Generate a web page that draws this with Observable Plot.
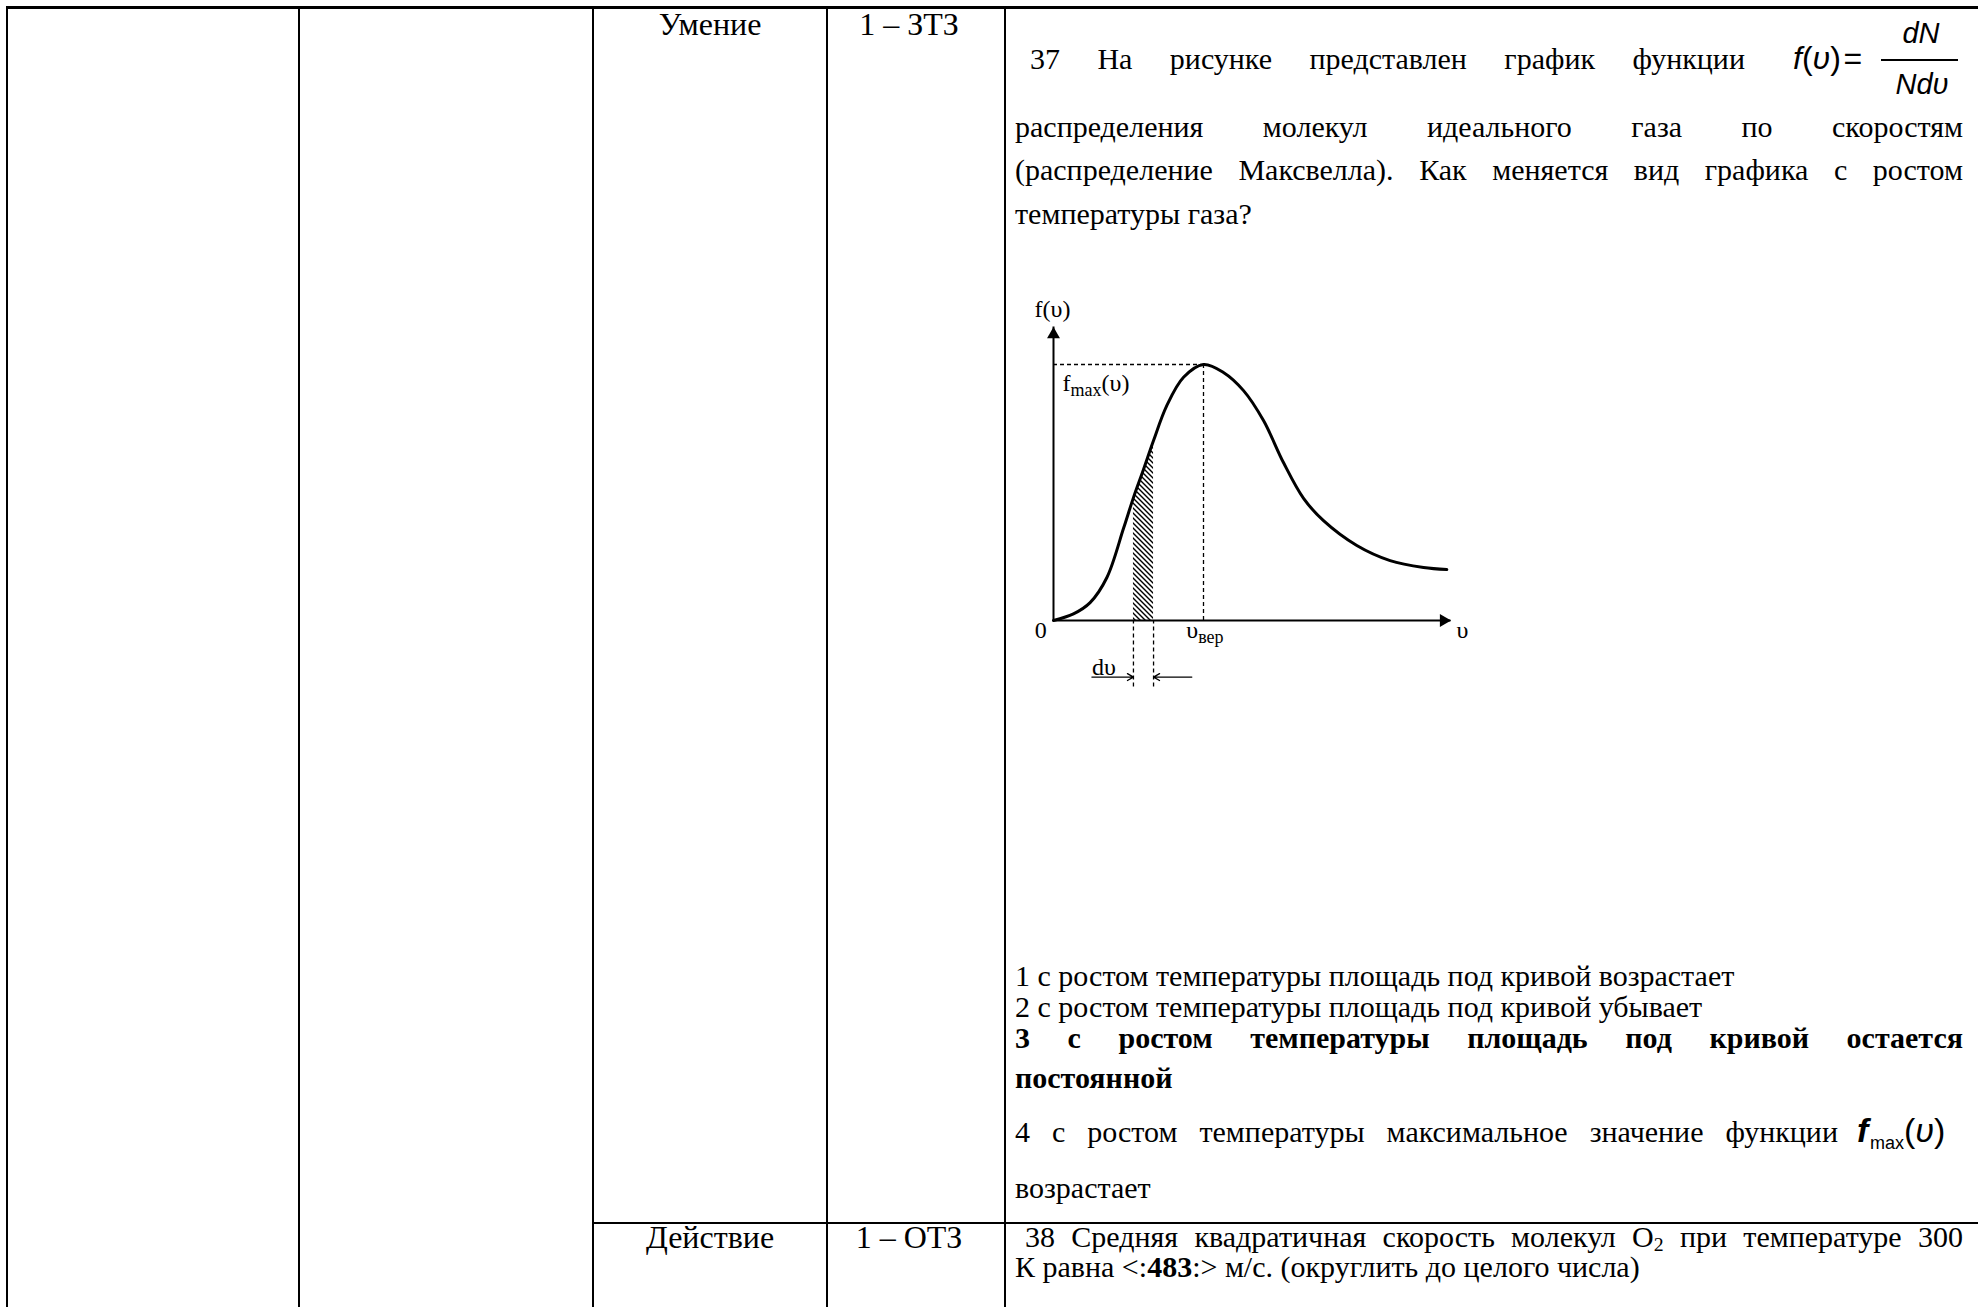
<!DOCTYPE html>
<html>
<head>
<meta charset="utf-8">
<script src="https://cdn.jsdelivr.net/npm/d3@7"></script>
<script src="https://cdn.jsdelivr.net/npm/@observablehq/plot@0.6"></script>
<style>
html,body{margin:0;padding:0;background:#fff;}
#page{position:relative;width:1978px;height:1307px;overflow:hidden;background:#fff;color:#000;}
#page div{color:#000;}
</style>
</head>
<body>
<div id="page"></div>
<script>
// ---------------- DATA ----------------
const row1Cells = ["Умение", "1 – ЗТЗ"];
const row2Cells = ["Действие", "1 – ОТЗ"];
const q37Words = ["37", "На", "рисунке", "представлен", "график", "функции"];
const q37Lines = [
  "распределения молекул идеального газа по скоростям",
  "(распределение Максвелла). Как меняется вид графика с ростом",
  "температуры газа?"
];
const optionLines = [
  "1 с ростом температуры площадь под кривой возрастает",
  "2 с ростом температуры площадь под кривой убывает",
  "3 с ростом температуры площадь под кривой остается",
  "постоянной",
  "4 с ростом температуры максимальное значение функции",
  "возрастает"
];
const q38Line1 = ["38", "Средняя", "квадратичная", "скорость", "молекул", "O<span style=\"font-size:0.66em;vertical-align:-0.22em\">2</span>", "при", "температуре", "300"];
const q38Line2 = "К равна &lt;:<b>483</b>:&gt; м/с. (округлить до целого числа)";

// Maxwell curve (speed in units of υвер, f in units of fmax)
const speed   = [0, 0.133, 0.244, 0.356, 0.467, 0.533, 0.600, 0.667, 0.756, 0.867, 1.000, 1.133, 1.267, 1.400, 1.533, 1.667, 1.800, 2.022, 2.244, 2.467, 2.622];
const density = [0, 0.026, 0.070, 0.168, 0.360, 0.480, 0.590, 0.703, 0.840, 0.950, 1.000, 0.969, 0.898, 0.781, 0.617, 0.477, 0.390, 0.293, 0.234, 0.207, 0.199];
const dvBand = [0.533, 0.667];
const peak = {v: 1.0, f: 1.0};
const axisEnd = {v: 2.65, f: 1.146};
const guideBottom = -0.26;
const dvArrows = [{from: 0.256, to: 0.533, f: -0.221}, {from: 0.922, to: 0.667, f: -0.221}];
const chartLabels = [
  {text: "f(υ)",    v: -0.007, f: 1.184,  anchor: "middle"},
  {text: "0",       v: -0.085, f: -0.070, anchor: "middle"},
  {text: "fmax(υ)", v: 0.060,  f: 0.895,  anchor: "start"},
  {text: "υвер",    v: 0.885,  f: -0.070, anchor: "start"},
  {text: "υ",       v: 2.687,  f: -0.070, anchor: "start"},
  {text: "dυ",      v: 0.256,  f: -0.213, anchor: "start"}
];
const subLabels = [{base: "f", sub: "max", tail: "(υ)"}, {base: "υ", sub: "вер", tail: ""}];

// ---------------- PAGE ----------------
const page = document.getElementById("page");
const SERIF = '"Liberation Serif","Times New Roman",serif';
const SANS = '"Liberation Sans",Arial,sans-serif';
const FS = 30;
const K_SERIF = 0.8375, K_SANS = 0.8465;

function el(css, html) {
  const e = document.createElement("div");
  Object.assign(e.style, {position: "absolute"}, css);
  if (html != null) e.innerHTML = html;
  page.appendChild(e);
  return e;
}
function textAt(html, o) {
  const size = o.size || FS, k = o.k || K_SERIF;
  const css = {top: (o.b - k * size) + "px", fontSize: size + "px", lineHeight: "1",
    fontFamily: o.family || SERIF, whiteSpace: "nowrap",
    fontWeight: o.bold ? "bold" : "normal", fontStyle: o.italic ? "italic" : "normal"};
  css.left = o.x + "px";
  if (o.align === "center") css.transform = "translateX(-50%)";
  return el(css, html);
}
function justified(words, o) {
  const d = textAt("", o);
  Object.assign(d.style, {width: (o.x2 - o.x) + "px", display: "flex", justifyContent: "space-between", alignItems: "flex-start"});
  words.forEach(w => { const s = document.createElement("span"); s.innerHTML = w; d.appendChild(s); });
  return d;
}
// table rules
el({left: "6px", top: "6px", width: "1972px", height: "3px", background: "#000"});
[6, 298, 592, 826, 1004].forEach(x => el({left: x + "px", top: "6px", width: "2px", height: "1301px", background: "#000"}));
el({left: "592px", top: "1222px", width: "1386px", height: "2px", background: "#000"});

// row texts
textAt(row1Cells[0], {x: 710, b: 35, size: 32, align: "center"});
textAt(row1Cells[1], {x: 909, b: 35, size: 32, align: "center"});
textAt(row2Cells[0], {x: 710, b: 1248, size: 32, align: "center"});
textAt(row2Cells[1], {x: 909, b: 1248, size: 32, align: "center"});

// question 37
justified(q37Words, {x: 1030, x2: 1745, b: 69});
textAt('<i>f</i>(<i>υ</i>)&#8202;=', {x: 1793, b: 69, size: 32, family: SANS, k: K_SANS});
textAt('<i>dN</i>', {x: 1921, b: 44, size: 29, family: SANS, k: K_SANS, align: "center"});
el({left: "1881px", top: "59px", width: "77px", height: "1.6px", background: "#000"});
textAt('<i>Ndυ</i>', {x: 1922, b: 95, size: 29, family: SANS, k: K_SANS, align: "center"});

justified(q37Lines[0].split(" "), {x: 1015, x2: 1963, b: 137});
justified(q37Lines[1].split(" "), {x: 1015, x2: 1963, b: 180});
textAt(q37Lines[2], {x: 1015, b: 224});

// options
const optB = [986, 1017, 1048, 1088, 1142, 1198];
textAt(optionLines[0], {x: 1015, b: optB[0]});
textAt(optionLines[1], {x: 1015, b: optB[1]});
justified(optionLines[2].split(" "), {x: 1015, x2: 1963, b: optB[2], bold: true});
textAt(optionLines[3], {x: 1015, b: optB[3], bold: true});
justified(optionLines[4].split(" "), {x: 1015, x2: 1838, b: optB[4]});
textAt('<b><i>f</i></b>', {x: 1857, b: optB[4], size: 34, family: SANS, k: K_SANS});
textAt('max', {x: 1870, b: optB[4] + 7, size: 18, family: SANS, k: K_SANS});
textAt('(<i>υ</i>)', {x: 1904, b: optB[4], size: 34, family: SANS, k: K_SANS});
textAt(optionLines[5], {x: 1015, b: optB[5]});

// question 38
justified(q38Line1, {x: 1025, x2: 1963, b: 1247});
textAt(q38Line2, {x: 1015, b: 1277});

// ---------------- CHART ----------------
const curve = speed.map((v, i) => ({v, f: density[i]}));
const strip = curve.filter(d => d.v >= dvBand[0] - 1e-9 && d.v <= dvBand[1] + 1e-9);
const labelOpts = {x: "v", y: "f", text: "text", lineAnchor: "bottom", fontSize: 24, fill: "#000", fontFamily: SERIF};

const chart = Plot.plot({
  width: 480, height: 420,
  marginLeft: 43, marginRight: 39.5, marginTop: 74, marginBottom: 90,
  x: {domain: [0, 2.65], axis: null},
  y: {domain: [0, 1], axis: null},
  style: {background: "transparent", fontFamily: SERIF, fontSize: "24px", color: "#000", overflow: "visible"},
  marks: [
    Plot.areaY(strip, {x: "v", y: "f", fill: "url(#hatch)", curve: "catmull-rom"}),
    Plot.ruleX(dvBand, {y1: guideBottom, y2: 0, stroke: "#000", strokeWidth: 1.3, strokeDasharray: "4,3"}),
    Plot.ruleY([peak.f], {x1: 0, x2: peak.v, stroke: "#000", strokeWidth: 1.3, strokeDasharray: "4,3"}),
    Plot.ruleX([peak.v], {y1: 0, y2: peak.f, stroke: "#000", strokeWidth: 1.3, strokeDasharray: "4,3"}),
    Plot.ruleY([0], {x1: 0, x2: axisEnd.v, stroke: "#000", strokeWidth: 2}),
    Plot.ruleX([0], {y1: 0, y2: axisEnd.f, stroke: "#000", strokeWidth: 2}),
    Plot.dot([axisEnd], {x: "v", y: 0, symbol: "triangle", r: 4.8, fill: "#000", stroke: "none", rotate: 90, dx: -7.4}),
    Plot.dot([axisEnd], {x: 0, y: "f", symbol: "triangle", r: 4.8, fill: "#000", stroke: "none", dy: 7.4}),
    Plot.line(curve, {x: "v", y: "f", curve: "catmull-rom", stroke: "#000", strokeWidth: 3}),
    Plot.arrow(dvArrows, {x1: "from", x2: "to", y1: "f", y2: "f", stroke: "#000", strokeWidth: 1.3, headLength: 8}),
    Plot.text(chartLabels.filter(d => d.anchor === "middle"), {...labelOpts, textAnchor: "middle"}),
    Plot.text(chartLabels.filter(d => d.anchor === "start"), {...labelOpts, textAnchor: "start"})
  ]
});

const svg = d3.select(chart);
const pat = svg.insert("defs", ":first-child").append("pattern")
  .attr("id", "hatch").attr("patternUnits", "userSpaceOnUse").attr("width", 5).attr("height", 5);
pat.append("path").attr("d", "M-1,-1L6,6M-1,4L1,6M4,-1L6,1").attr("stroke", "#000").attr("stroke-width", 1.4);

svg.selectAll("text").each(function() {
  const s = subLabels.find(d => d.base + d.sub + d.tail === this.textContent);
  if (!s) return;
  const t = d3.select(this);
  t.text(null);
  t.append("tspan").text(s.base);
  t.append("tspan").attr("font-size", "18px").attr("dy", 5).text(s.sub);
  if (s.tail) t.append("tspan").attr("dy", -5).text(s.tail);
});

const holder = el({left: "1010px", top: "290px", width: "480px", height: "420px"});
holder.appendChild(chart);
</script>
</body>
</html>
